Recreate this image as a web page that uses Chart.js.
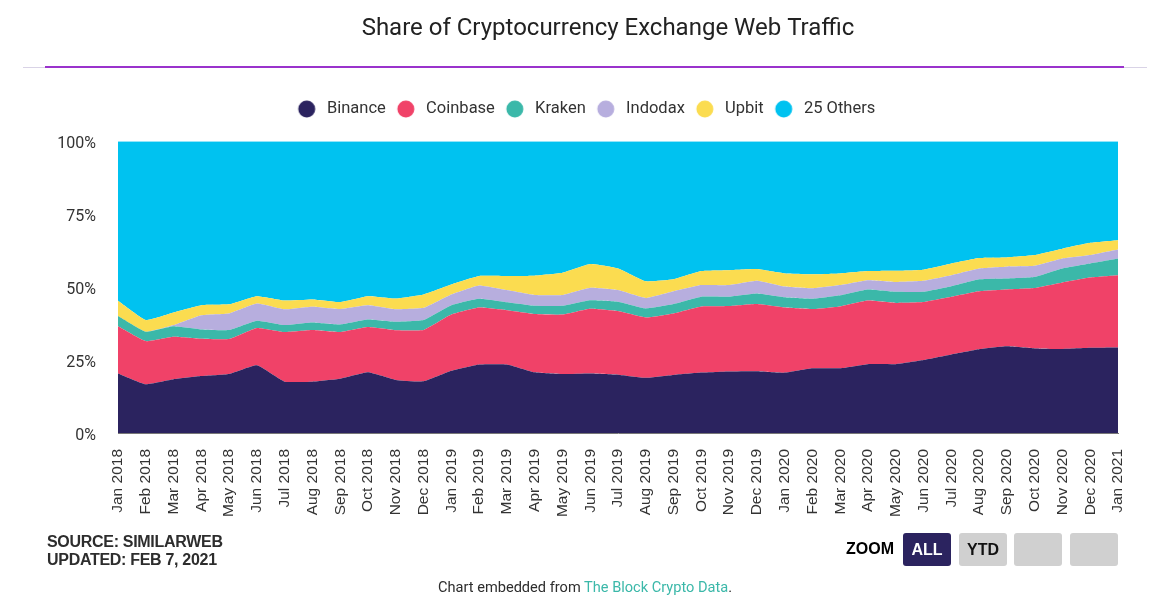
<!DOCTYPE html>
<html>
<head>
<meta charset="utf-8">
<script src="https://cdn.jsdelivr.net/npm/chart.js@4"></script>
<style>
html,body{margin:0;padding:0;background:#fff;width:1166px;height:602px;overflow:hidden}
#c{position:absolute;left:0;top:0}
.abs{position:absolute;white-space:nowrap}
.src{font:bold 16px "Liberation Sans",Arial,sans-serif;letter-spacing:-0.3px;color:#2d2d2d;line-height:18px}
.btn{position:absolute;top:533px;width:48px;height:33px;border-radius:3px;background:#d0d0d0;font:bold 16px/33px "Liberation Sans",Arial,sans-serif;text-align:center;color:#111}
</style>
</head>
<body>
<canvas id="c" width="1166" height="602"></canvas>
<div class="abs" style="left:23px;top:67px;width:1124px;height:1px;background:#d9d3e6"></div>
<div class="abs" style="left:45px;top:66px;width:1079px;height:2px;background:#9a32cc"></div>
<div class="abs src" style="left:47px;top:533px">SOURCE: SIMILARWEB<br>UPDATED: FEB 7, 2021</div>
<div class="abs src" style="left:846px;top:540px;color:#000;letter-spacing:0">ZOOM</div>
<div class="btn" style="left:903px;background:#2b235f;color:#fff">ALL</div>
<div class="btn" style="left:959px">YTD</div>
<div class="btn" style="left:1014px"></div>
<div class="btn" style="left:1070px"></div>
<div class="abs" style="left:438px;top:578px;font:14.6px Roboto,sans-serif;color:#2d2d2d">Chart embedded from <span style="color:#3bb8a9">The Block Crypto Data</span>.</div>
<script>
const months = ["Jan 2018","Feb 2018","Mar 2018","Apr 2018","May 2018","Jun 2018","Jul 2018","Aug 2018","Sep 2018","Oct 2018","Nov 2018","Dec 2018",
"Jan 2019","Feb 2019","Mar 2019","Apr 2019","May 2019","Jun 2019","Jul 2019","Aug 2019","Sep 2019","Oct 2019","Nov 2019","Dec 2019",
"Jan 2020","Feb 2020","Mar 2020","Apr 2020","May 2020","Jun 2020","Jul 2020","Aug 2020","Sep 2020","Oct 2020","Nov 2020","Dec 2020","Jan 2021"];
const binance = [20.4,16.7,18.4,19.5,20.2,23.2,17.6,17.6,18.6,20.8,18.2,17.7,21.3,23.5,23.5,20.8,20.2,20.4,20,18.9,19.9,20.7,21.1,21.2,20.7,22.2,22.2,23.6,23.6,25,26.9,28.7,29.7,29,28.8,29.2,29.3];
const coinbase = [16.2,14.8,14.6,12.8,12,12.8,17,17.7,16,15.5,17,17.6,19.3,19.5,18.6,20,20.4,22.2,21.8,20.7,21.1,22.7,22.4,23,22.3,20.3,21.2,21.8,21,19.9,19.8,19.9,19.5,20.7,22.8,24.1,24.8];
const kraken = [3.5,3.2,3.6,3.2,3.1,2.5,2.4,2.6,2.6,2.6,2.9,3.4,3.2,3,2.7,2.8,3,2.9,3.2,3.1,3.2,3.3,3.2,3.6,3.5,3.5,3.8,3.8,3.8,3.5,3.6,4.1,3.8,3.8,4.8,4.8,5.7];
const indodax = [0,0,0.4,4.9,5.7,5.9,5.4,5.4,5.3,4.9,4.3,4.2,3.7,4.6,4.2,3.7,3.7,4.3,4,3.6,4.4,4,4,4.4,3.7,3.6,3.5,3.2,3.4,3.8,3.8,3.7,4,3.8,3.4,2.9,3.1];
const upbit = [5.2,4,4.3,3.4,3.1,2.5,3,2.5,2.4,3.1,3.7,4.6,3.4,3.2,4.8,6.6,7.6,8.1,7.4,5.7,4.1,4.8,5.1,4,4.5,4.8,4,3.1,3.8,3.8,4,3.6,3.2,3.7,3.4,4.2,3.2];
const others = [54.7,61.3,58.7,56.2,55.9,53.1,54.6,54.2,55.1,53.1,53.9,52.5,49.1,46.2,46.2,46.1,45.1,42.1,43.6,48,47.3,44.5,44.2,43.8,45.3,45.6,45.3,44.5,44.4,44,41.9,40,39.8,39,36.8,34.8,33.9];
const yTicks = [0,25,50,75,100];

function dot(color){
  const c=document.createElement('canvas'); c.width=24; c.height=18;
  const g=c.getContext('2d'); g.fillStyle=color;
  g.beginPath(); g.arc(12,9,8.5,0,Math.PI*2); g.fill();
  return c;
}
function ds(label, data, color, fill){
  return {label, data, backgroundColor:color, borderColor:color, borderWidth:0, pointRadius:0, pointStyle:dot(color), fill, tension:0.12};
}
const placement = {
  id:'placement',
  beforeInit(chart){
    const l=chart.legend, fit=l.fit;
    l.fit=function(){ fit.call(l); l.height+=14; };
  },
  afterLayout(chart){
    const t=chart.titleBlock, l=chart.legend;
    if(t){ t.left+=49; t.right+=49; }
    if(l){ l.left+=26; l.right+=26; }
    chart.scales.y.getLabelItems().forEach(i=>{ i.textOffset+=3; });
  }
};
new Chart(document.getElementById('c'), {
  type:'line',
  plugins:[placement],
  data:{labels:months, datasets:[
    ds('Binance',binance,'#2b235f','origin'),
    ds('Coinbase',coinbase,'#f04268','-1'),
    ds('Kraken',kraken,'#3bb8a9','-1'),
    ds('Indodax',indodax,'#b7aede','-1'),
    ds('Upbit',upbit,'#fbdc50','-1'),
    ds('25 Others',others,'#00c2f0','-1')
  ]},
  options:{
    responsive:false, animation:false, devicePixelRatio:1,
    layout:{padding:{left:0,right:48,top:15,bottom:0}},
    plugins:{
      tooltip:{enabled:false},
      title:{display:true,text:'Share of Cryptocurrency Exchange Web Traffic',color:'#222',
        font:{family:'Roboto',size:24,weight:'400'},padding:{top:0,bottom:49}},
      legend:{position:'top',align:'center',onClick:null,
        labels:{usePointStyle:true,pointStyleWidth:24,boxHeight:11,padding:8,color:'#333',
          font:{family:'Roboto',size:16.5}}}
    },
    scales:{
      x:{type:'category',offset:false,grid:{display:false,drawTicks:false},border:{color:'#777',width:1},
        ticks:{autoSkip:false,minRotation:90,maxRotation:90,color:'#333',padding:16,font:{family:'Liberation Sans',size:15.5}},
        afterFit(s){s.height=169;}},
      y:{stacked:true,min:0,max:100,grid:{display:false,drawTicks:false},border:{display:false},
        afterBuildTicks(s){s.ticks=yTicks.map(v=>({value:v}));},
        ticks:{color:'#333',padding:22,font:{family:'Roboto',size:16},callback:v=>v+'%'},
        afterFit(s){s.width=118;}}
    }
  }
});
</script>
</body>
</html>
